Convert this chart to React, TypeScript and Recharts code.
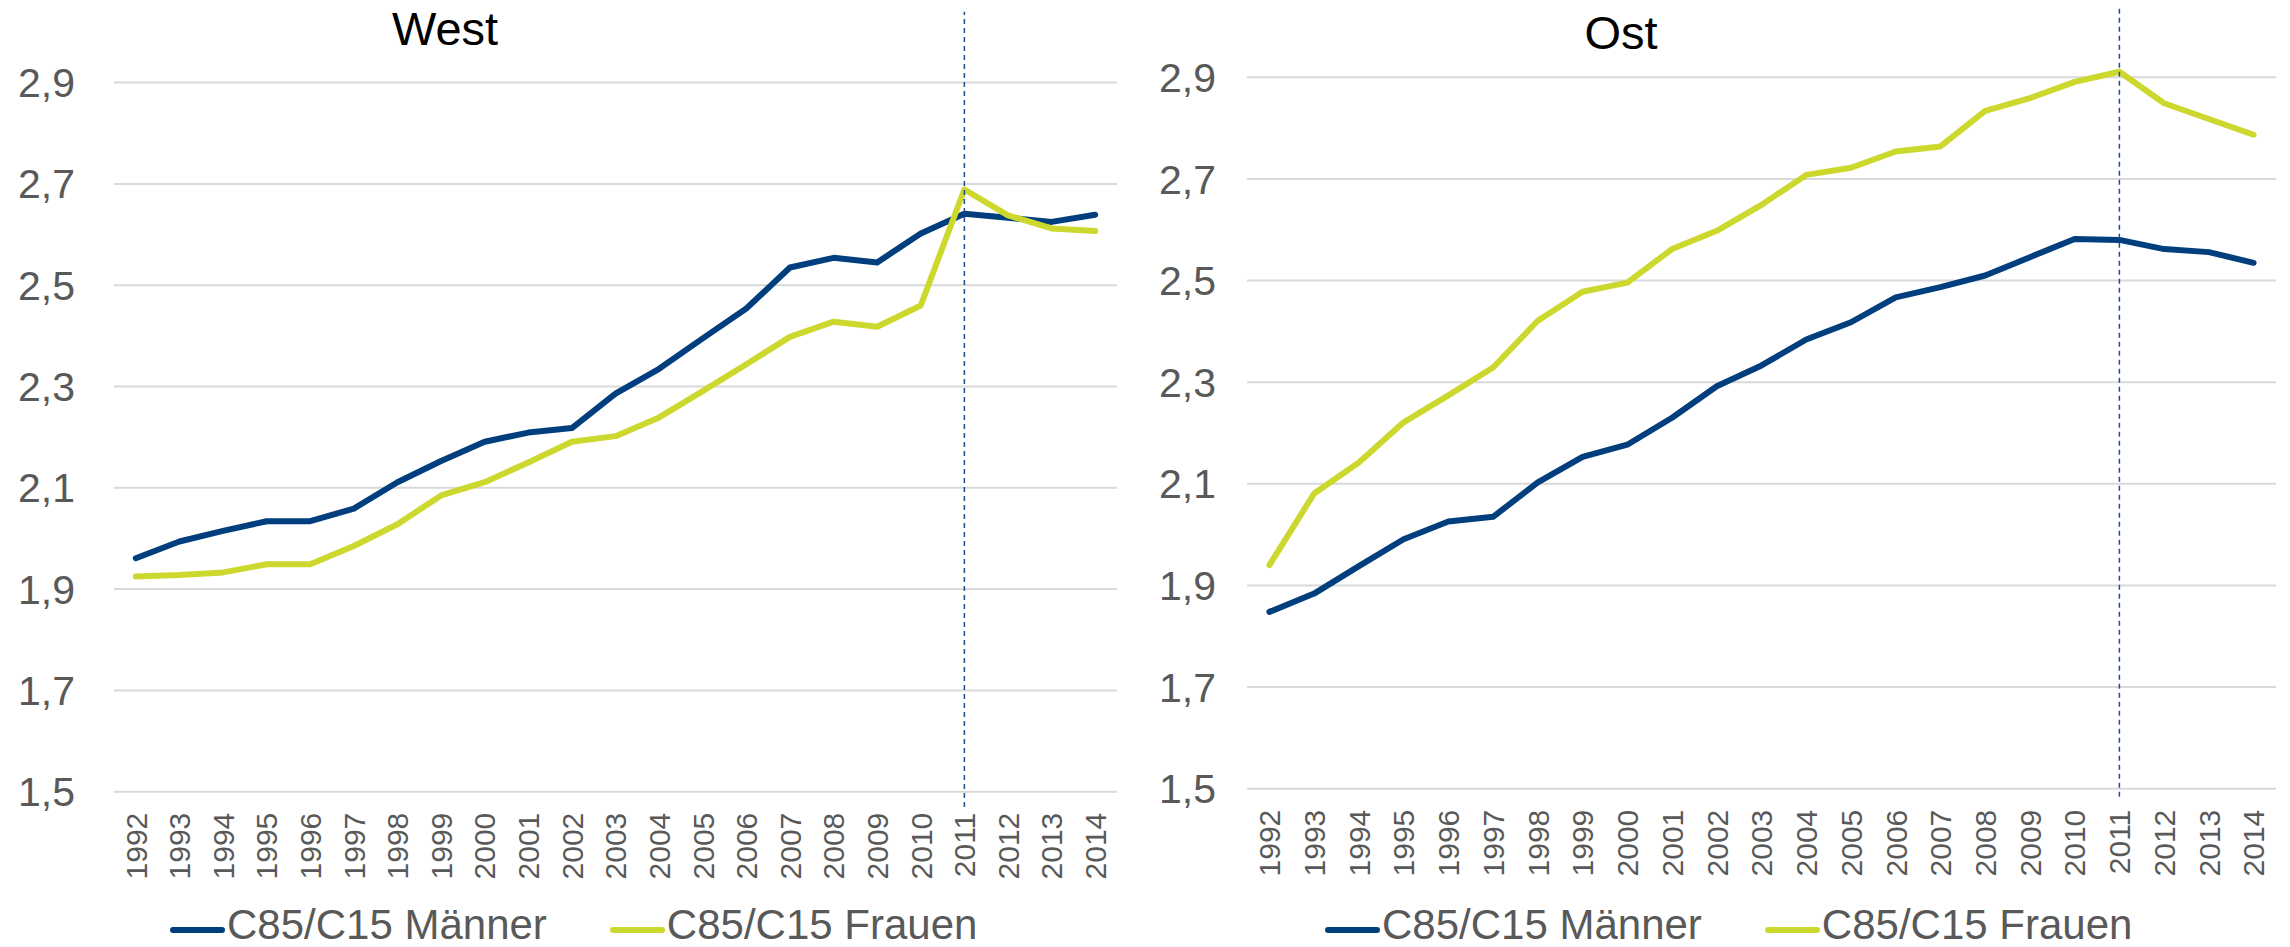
import { LineChart, Line, XAxis, YAxis, CartesianGrid, ReferenceLine, Legend } from "recharts";

const years = [
  "1992", "1993", "1994", "1995", "1996", "1997", "1998", "1999", "2000", "2001", "2002", "2003",
  "2004", "2005", "2006", "2007", "2008", "2009", "2010", "2011", "2012", "2013", "2014",
];

const westMaenner = [
  1.961, 1.994, 2.015, 2.034, 2.034, 2.059, 2.111, 2.153, 2.191, 2.209, 2.218, 2.286,
  2.335, 2.395, 2.454, 2.535, 2.554, 2.545, 2.602, 2.641, 2.633, 2.625, 2.639,
];
const westFrauen = [
  1.925, 1.928, 1.933, 1.949, 1.949, 1.985, 2.028, 2.085, 2.111, 2.15, 2.191, 2.202,
  2.239, 2.291, 2.344, 2.398, 2.428, 2.418, 2.46, 2.689, 2.638, 2.612, 2.607,
];
const ostMaenner = [
  1.848, 1.884, 1.938, 1.991, 2.026, 2.035, 2.103, 2.153, 2.177, 2.23, 2.292, 2.333,
  2.384, 2.418, 2.467, 2.487, 2.51, 2.546, 2.582, 2.58, 2.562, 2.556, 2.535,
];
const ostFrauen = [
  1.94, 2.081, 2.142, 2.221, 2.274, 2.329, 2.421, 2.478, 2.496, 2.562, 2.598, 2.649,
  2.708, 2.722, 2.754, 2.764, 2.834, 2.859, 2.891, 2.911, 2.849, 2.818, 2.787,
];

const seriesNames = ["C85/C15 Männer", "C85/C15 Frauen"];
const yTicks = [1.5, 1.7, 1.9, 2.1, 2.3, 2.5, 2.7, 2.9];
const markYear = "2011";

const BLUE = "#003E7E";
const GREEN = "#CDD82E";
const GRAY = "#595959";
const FONT = "'Liberation Sans', Arial, sans-serif";

const toRows = (m: number[], f: number[]) =>
  years.map((year, i) => ({ year, maenner: m[i], frauen: f[i] }));

function YearTick({ x, y, payload }: any) {
  return (
    <text
      x={x}
      y={y}
      dy="0.36em"
      transform={`rotate(-90, ${x}, ${y})`}
      textAnchor="end"
      fill={GRAY}
      fontSize={30}
    >
      {payload.value}
    </text>
  );
}

function LegendRow({ payload, offset }: any) {
  // keep the series order of the original, not alphabetic
  const items = seriesNames
    .map((n) => (payload || []).find((p: any) => p.value === n))
    .filter(Boolean);
  return (
    <div style={{ display: "flex", alignItems: "center", paddingLeft: offset, paddingTop: 8, height: 44 }}>
      {items.map((p: any, i: number) => (
        <div key={p.value} style={{ display: "flex", alignItems: "center", marginLeft: i === 0 ? 0 : 63 }}>
          <span
            style={{
              display: "inline-block",
              width: 55,
              height: 6,
              borderRadius: 3,
              background: p.color,
              position: "relative",
              top: 5,
            }}
          />
          <span style={{ marginLeft: 2, fontSize: 42, color: GRAY, whiteSpace: "nowrap" }}>{p.value}</span>
        </div>
      ))}
    </div>
  );
}

interface PanelProps {
  title: string;
  titleCenter: number;
  titleTop: number;
  data: { year: string; maenner: number; frauen: number }[];
  width: number;
  yAxisWidth: number;
  labelGap: number;
  marginTop: number;
  marginRight: number;
  xAxisHeight: number;
  bandPad: number;
  refBottom: number;
  legendOffset: number;
}

function Panel(p: PanelProps) {
  return (
    <div style={{ position: "relative", width: p.width, height: 947 }}>
      <div
        style={{
          position: "absolute",
          left: p.titleCenter - 150,
          width: 300,
          top: p.titleTop,
          textAlign: "center",
          fontSize: 47,
          lineHeight: "47px",
          color: "#000",
          zIndex: 2,
        }}
      >
        {p.title}
      </div>
      <LineChart
        width={p.width}
        height={947}
        data={p.data}
        margin={{ top: p.marginTop, right: p.marginRight, left: 0, bottom: 0 }}
      >
        <CartesianGrid vertical={false} syncWithTicks stroke="#D9D9D9" strokeWidth={2} />
        <XAxis
          dataKey="year"
          interval={0}
          axisLine={false}
          tickLine={false}
          tickSize={0}
          tickMargin={21}
          padding={{ left: p.bandPad, right: p.bandPad }}
          height={p.xAxisHeight}
          tick={<YearTick />}
        />
        <YAxis
          type="number"
          domain={[1.5, 3.04]}
          allowDataOverflow
          ticks={yTicks}
          interval={0}
          width={p.yAxisWidth}
          axisLine={false}
          tickLine={false}
          tickSize={0}
          tickMargin={p.labelGap}
          tick={{ fill: GRAY, fontSize: 41 }}
          tickFormatter={(v: number) => v.toFixed(1).replace(".", ",")}
        />
        <Legend
          verticalAlign="bottom"
          height={52}
          content={(props: any) => <LegendRow payload={props.payload} offset={p.legendOffset} />}
        />
        <Line
          name={seriesNames[0]}
          dataKey="maenner"
          stroke={BLUE}
          strokeWidth={6}
          strokeLinecap="round"
          strokeLinejoin="round"
          dot={false}
          activeDot={false}
          isAnimationActive={false}
        />
        <Line
          name={seriesNames[1]}
          dataKey="frauen"
          stroke={GREEN}
          strokeWidth={6}
          strokeLinecap="round"
          strokeLinejoin="round"
          dot={false}
          activeDot={false}
          isAnimationActive={false}
        />
        <ReferenceLine
          segment={[
            { x: markYear, y: p.refBottom },
            { x: markYear, y: 3.04 },
          ]}
          ifOverflow="visible"
          stroke="#1F4E8C"
          strokeWidth={1.5}
          strokeDasharray="5 4"
        />
      </LineChart>
    </div>
  );
}

export default function App() {
  return (
    <div
      style={{
        position: "absolute",
        left: 0,
        top: 0,
        width: 2290,
        height: 947,
        background: "#fff",
        display: "flex",
        fontFamily: FONT,
      }}
    >
      <Panel
        title="West"
        titleCenter={445}
        titleTop={5}
        data={toRows(westMaenner, westFrauen)}
        width={1140}
        yAxisWidth={114}
        labelGap={39}
        marginTop={11.7}
        marginRight={23}
        xAxisHeight={103.3}
        bandPad={21.8}
        refBottom={1.47}
        legendOffset={170}
      />
      <Panel
        title="Ost"
        titleCenter={481}
        titleTop={9}
        data={toRows(ostMaenner, ostFrauen)}
        width={1150}
        yAxisWidth={107}
        labelGap={31}
        marginTop={6.2}
        marginRight={14}
        xAxisHeight={106.3}
        bandPad={22.4}
        refBottom={1.484}
        legendOffset={185}
      />
    </div>
  );
}
